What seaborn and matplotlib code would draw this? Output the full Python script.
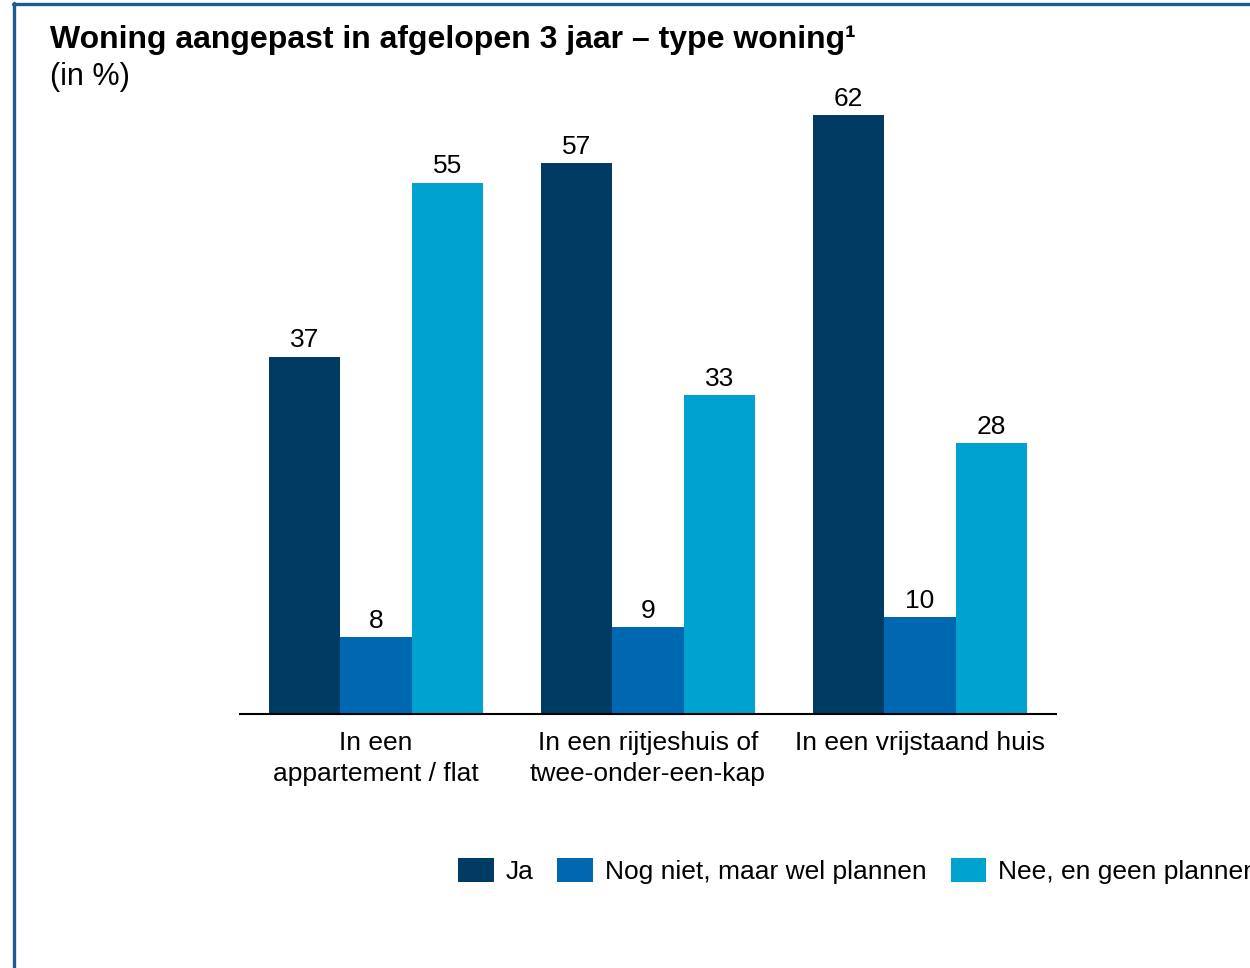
import matplotlib
matplotlib.use("Agg")
import matplotlib.pyplot as plt
import seaborn as sns
import pandas as pd
from matplotlib.lines import Line2D
from matplotlib.patches import Patch

categories = ["In een\nappartement / flat", "In een rijtjeshuis of\ntwee-onder-een-kap", "In een vrijstaand huis"]
series_names = ["Ja", "Nog niet, maar wel plannen", "Nee, en geen plannen"]
ja = [37, 57, 62]
nog_niet = [8, 9, 10]
nee = [55, 33, 28]
colors = ["#003B64", "#0067B1", "#00A3D0"]
title = "Woning aangepast in afgelopen 3 jaar \u2013 type woning\u00b9"
subtitle = "(in %)"

rows = []
for s, vals in zip(series_names, [ja, nog_niet, nee]):
    for c, v in zip(categories, vals):
        rows.append({"cat": c, "serie": s, "val": v})
df = pd.DataFrame(rows)

sns.set_theme(style="white")
plt.rcParams['font.family'] = ['Liberation Sans', 'DejaVu Sans']
plt.rcParams['text.color'] = 'black'
FS = 19

fig = plt.figure(figsize=(12.5, 9.68), dpi=100)
ax = fig.add_axes([240/1250, (968-714)/968, 816/1250, 628/968])

sns.barplot(data=df, x="cat", y="val", hue="serie", order=categories,
            hue_order=series_names, palette=colors, width=0.79,
            saturation=1, ax=ax, legend=False, linewidth=0)

for cont in ax.containers:
    ax.bar_label(cont, fmt="%d", padding=3, fontsize=FS, color="black")

ax.set_xlim(-0.5, 2.5)
ax.set_ylim(0, 65)
ax.set_xlabel("")
ax.set_ylabel("")
ax.set_yticks([])
ax.tick_params(axis="x", length=0, pad=12, labelsize=FS, colors="black")
for lab in ax.get_xticklabels():
    lab.set_linespacing(1.36)
for sp in ["top", "right", "left"]:
    ax.spines[sp].set_visible(False)
ax.spines["bottom"].set_color("black")
ax.spines["bottom"].set_linewidth(1.5)

handles = [Patch(facecolor=c, edgecolor="none") for c in colors]
fig.legend(handles, series_names, loc="center left",
           bbox_to_anchor=(458/1250, 1-871/968), ncol=3, frameon=False,
           fontsize=FS, handlelength=1.36, handleheight=1.02,
           handletextpad=0.45, columnspacing=0.9, borderpad=0,
           borderaxespad=0, labelcolor="black")

fig.text(50/1250, 1-48/968, title, fontsize=23, fontweight="bold",
         ha="left", va="baseline", color="black")
fig.text(50/1250, 1-85/968, subtitle, fontsize=22, ha="left",
         va="baseline", color="black")

border_c = "#1E5A94"
fig.add_artist(Line2D([14.5/1250, 14.5/1250], [0, 1-3/968], transform=fig.transFigure,
                      color=border_c, linewidth=2.4))
fig.add_artist(Line2D([13/1250, 1], [1-3.5/968, 1-3.5/968], transform=fig.transFigure,
                      color=border_c, linewidth=2.4))

fig.savefig("out.png", dpi=100, facecolor="white")
